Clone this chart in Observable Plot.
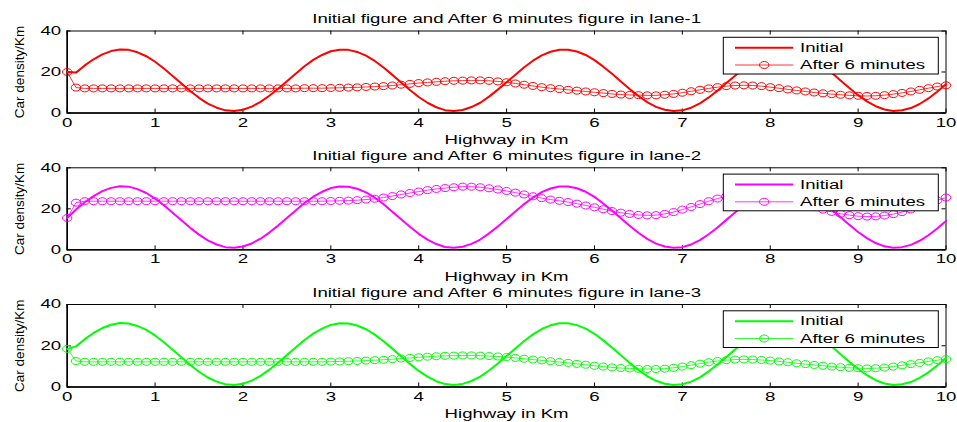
<!DOCTYPE html>
<html>
<head>
<meta charset="utf-8">
<script src="https://cdn.jsdelivr.net/npm/d3@7"></script>
<script src="https://cdn.jsdelivr.net/npm/@observablehq/plot@0.6"></script>
<style>
  body { margin: 0; background: #fff; }
  #chart { width: 957px; height: 422px; position: relative; overflow: hidden; background: #fff; }
  #chart svg { display: block; }
</style>
</head>
<body>
<div id="chart"></div>
<script>
// ---------- data ----------
const km = [0,0.1,0.2,0.3,0.4,0.5,0.6,0.7,0.8,0.9,1,1.1,1.2,1.3,1.4,1.5,1.6,1.7,1.8,1.9,2,2.1,2.2,2.3,2.4,2.5,2.6,2.7,2.8,2.9,3,3.1,3.2,3.3,3.4,3.5,3.6,3.7,3.8,3.9,4,4.1,4.2,4.3,4.4,4.5,4.6,4.7,4.8,4.9,5,5.1,5.2,5.3,5.4,5.5,5.6,5.7,5.8,5.9,6,6.1,6.2,6.3,6.4,6.5,6.6,6.7,6.8,6.9,7,7.1,7.2,7.3,7.4,7.5,7.6,7.7,7.8,7.9,8,8.1,8.2,8.3,8.4,8.5,8.6,8.7,8.8,8.9,9,9.1,9.2,9.3,9.4,9.5,9.6,9.7,9.8,9.9,10];

const initialLane1 = [20,19.7,23.2,26.2,28.6,30.2,31.0,30.8,29.6,27.7,25.0,21.7,18.1,14.4,10.7,7.4,4.6,2.6,1.3,1.0,1.6,3.1,5.4,8.4,11.8,15.5,19.2,22.8,25.9,28.3,30.1,30.9,30.8,29.8,28.0,25.4,22.2,18.6,14.9,11.2,7.8,5.0,2.8,1.4,1.0,1.5,2.9,5.0,8.0,11.4,15.0,18.7,22.3,25.5,28.1,29.9,30.9,30.9,30.0,28.3,25.8,22.6,19.1,15.4,11.7,8.3,5.3,3.0,1.6,1.0,1.3,2.6,4.7,7.6,10.9,14.6,18.2,21.8,25.1,27.8,29.7,30.8,30.9,30.1,28.6,26.1,23.1,19.6,15.9,12.2,8.7,5.7,3.3,1.7,1.0,1.3,2.4,4.4,7.1,10.4,14.0];
const initialLane2 = [15.5,19.7,23.2,26.2,28.6,30.2,31.0,30.8,29.6,27.7,25.0,21.7,18.1,14.4,10.7,7.4,4.6,2.6,1.3,1.0,1.6,3.1,5.4,8.4,11.8,15.5,19.2,22.8,25.9,28.3,30.1,30.9,30.8,29.8,28.0,25.4,22.2,18.6,14.9,11.2,7.8,5.0,2.8,1.4,1.0,1.5,2.9,5.0,8.0,11.4,15.0,18.7,22.3,25.5,28.1,29.9,30.9,30.9,30.0,28.3,25.8,22.6,19.1,15.4,11.7,8.3,5.3,3.0,1.6,1.0,1.3,2.6,4.7,7.6,10.9,14.6,18.2,21.8,25.1,27.8,29.7,30.8,30.9,30.1,28.6,26.1,23.1,19.6,15.9,12.2,8.7,5.7,3.3,1.7,1.0,1.3,2.4,4.4,7.1,10.4,14.0];
const initialLane3 = [18.5,19.7,23.2,26.2,28.6,30.2,31.0,30.8,29.6,27.7,25.0,21.7,18.1,14.4,10.7,7.4,4.6,2.6,1.3,1.0,1.6,3.1,5.4,8.4,11.8,15.5,19.2,22.8,25.9,28.3,30.1,30.9,30.8,29.8,28.0,25.4,22.2,18.6,14.9,11.2,7.8,5.0,2.8,1.4,1.0,1.5,2.9,5.0,8.0,11.4,15.0,18.7,22.3,25.5,28.1,29.9,30.9,30.9,30.0,28.3,25.8,22.6,19.1,15.4,11.7,8.3,5.3,3.0,1.6,1.0,1.3,2.6,4.7,7.6,10.9,14.6,18.2,21.8,25.1,27.8,29.7,30.8,30.9,30.1,28.6,26.1,23.1,19.6,15.9,12.2,8.7,5.7,3.3,1.7,1.0,1.3,2.4,4.4,7.1,10.4,14.0];

const afterLane1 = [20,12.4,12.0,12.0,12.0,12.0,12.0,12.0,12.0,12.0,12.0,12.0,12.0,12.0,12.0,12.0,12.0,12.0,12.0,12.0,12.0,12.0,12.0,12.0,12.0,12.0,12.0,12.1,12.1,12.1,12.2,12.3,12.4,12.5,12.7,12.9,13.1,13.4,13.8,14.2,14.6,14.9,15.2,15.5,15.7,15.8,15.9,15.9,15.7,15.4,15.0,14.4,13.8,13.2,12.6,12.1,11.7,11.3,10.9,10.5,10.1,9.7,9.3,9.0,8.8,8.7,8.6,8.6,8.9,9.3,9.9,10.6,11.3,12.0,12.6,13.1,13.4,13.5,13.4,13.1,12.6,12.1,11.5,11.0,10.5,10.0,9.6,9.2,8.9,8.6,8.4,8.3,8.4,8.7,9.2,9.8,10.5,11.3,12.1,12.9,13.5];
const afterLane2 = [15.5,23.0,23.7,23.7,23.7,23.7,23.7,23.7,23.7,23.7,23.7,23.7,23.7,23.7,23.7,23.7,23.7,23.7,23.7,23.7,23.7,23.7,23.7,23.7,23.7,23.7,23.7,23.7,23.7,23.7,23.8,23.9,24.0,24.2,24.5,24.9,25.5,26.2,27.0,27.7,28.4,29.1,29.7,30.1,30.5,30.8,30.8,30.5,30.0,29.4,28.7,27.9,27.0,26.1,25.2,24.5,23.9,23.3,22.5,21.6,20.7,19.8,18.9,18.1,17.5,17.0,16.8,16.9,17.5,18.4,19.6,20.9,22.3,23.7,25.0,26.0,26.8,27.2,27.3,27.0,26.4,25.5,24.4,23.2,22.0,20.8,19.6,18.5,17.6,16.9,16.4,16.2,16.3,16.7,17.4,18.4,19.7,21.1,22.6,24.1,25.5];
const afterLane3 = [18.5,12.6,12.2,12.2,12.2,12.2,12.2,12.2,12.2,12.2,12.2,12.2,12.2,12.2,12.2,12.2,12.2,12.2,12.2,12.2,12.2,12.2,12.2,12.2,12.2,12.2,12.2,12.2,12.2,12.2,12.3,12.4,12.5,12.6,12.8,13.0,13.2,13.5,13.8,14.1,14.4,14.7,14.9,15.1,15.2,15.3,15.3,15.2,15.0,14.8,14.5,14.1,13.7,13.3,12.9,12.5,12.1,11.7,11.2,10.8,10.3,9.9,9.5,9.2,9.0,8.8,8.7,8.7,8.9,9.3,9.9,10.6,11.3,12.0,12.6,13.0,13.3,13.4,13.3,13.1,12.8,12.4,12.0,11.5,11.1,10.7,10.3,9.9,9.6,9.3,9.1,9.0,9.1,9.4,9.9,10.5,11.1,11.7,12.4,13.0,13.5];

const titles = [
  "Initial figure and After 6 minutes figure in lane-1",
  "Initial figure and After 6 minutes figure in lane-2",
  "Initial figure and After 6 minutes figure in lane-3"
];
const laneColors = ["#ff0000", "#ff00ff", "#00ff00"];
const seriesNames = ["Initial", "After 6 minutes"];
const xLabel = "Highway in Km";
const yLabel = "Car density/Km";
const xTicks = [0,1,2,3,4,5,6,7,8,9,10];
const yTicks = [0,20,40];

// ---------- layout ----------
const W = 957, ML = 66.7, MR = 11.5;
const FONT = "'Liberation Sans', Arial, Helvetica, sans-serif";
const STRETCH = 1.55;
const layouts = [
  {height: 147, marginTop: 30.5, marginBottom: 34.5},
  {height: 137, marginTop: 20.3, marginBottom: 34.7},
  {height: 138, marginTop: 20,   marginBottom: 35.5}
];
const lanes = [
  {title: titles[0], color: laneColors[0], initial: initialLane1, after: afterLane1},
  {title: titles[1], color: laneColors[1], initial: initialLane2, after: afterLane2},
  {title: titles[2], color: laneColors[2], initial: initialLane3, after: afterLane3}
];

// horizontally stretched circle marker (as in the reference)
const RX = 4.7, RY = 3.5, K = 0.5523;
function ellipsePath(ctx, rx, ry) {
  ctx.moveTo(rx, 0);
  ctx.bezierCurveTo(rx, ry * K, rx * K, ry, 0, ry);
  ctx.bezierCurveTo(-rx * K, ry, -rx, ry * K, -rx, 0);
  ctx.bezierCurveTo(-rx, -ry * K, -rx * K, -ry, 0, -ry);
  ctx.bezierCurveTo(rx * K, -ry, rx, -ry * K, rx, 0);
  ctx.closePath();
}
const ellipseSymbol = {draw(ctx) { ellipsePath(ctx, RX, RY); }};

const chart = document.getElementById("chart");

lanes.forEach((lane, li) => {
  const L = layouts[li];
  const rows = km.map((x, i) => ({x, initial: lane.initial[i], after: lane.after[i]}));
  const frameH = L.height - L.marginTop - L.marginBottom;
  const frameW = W - ML - MR;

  const svg = Plot.plot({
    width: W,
    height: L.height,
    marginLeft: ML,
    marginRight: MR,
    marginTop: L.marginTop,
    marginBottom: L.marginBottom,
    style: {fontFamily: FONT, fontSize: "12px", background: "white", color: "black", overflow: "visible"},
    x: {domain: [0, 10]},
    y: {domain: [0, 40]},
    marks: [
      // inward ticks on all four sides
      Plot.tickX(xTicks, {x: d => d, insetTop: frameH - 4, stroke: "black", strokeWidth: 1}),
      Plot.tickX(xTicks, {x: d => d, insetBottom: frameH - 4, stroke: "black", strokeWidth: 1}),
      Plot.tickY(yTicks, {y: d => d, insetRight: frameW - 4, stroke: "black", strokeWidth: 1}),
      Plot.tickY(yTicks, {y: d => d, insetLeft: frameW - 4, stroke: "black", strokeWidth: 1}),
      Plot.frame({stroke: "black", strokeWidth: 1}),
      Plot.ruleX([0], {stroke: "black", strokeWidth: 1.6}),
      Plot.ruleY([0], {stroke: "black", strokeWidth: 1.6}),
      Plot.axisX(xTicks, {tickSize: 0, tickPadding: 5, label: null, fontSize: 12}),
      Plot.axisY(yTicks, {tickSize: 0, tickPadding: 6, label: null, fontSize: 12}),
      // data
      Plot.line(rows, {x: "x", y: "initial", stroke: lane.color, strokeWidth: 2}),
      Plot.line(rows, {x: "x", y: "after", stroke: lane.color, strokeWidth: 0.8}),
      Plot.dot(rows, {x: "x", y: "after", stroke: lane.color, strokeWidth: 1, fill: "none", symbol: ellipseSymbol}),
      // texts
      Plot.text([lane.title], {text: d => d, frameAnchor: "top", dy: -8, lineAnchor: "bottom", textAnchor: "middle", fontSize: 12}),
      Plot.text([xLabel], {text: d => d, frameAnchor: "bottom", dy: 30.8, lineAnchor: "bottom", textAnchor: "middle", fontSize: 12}),
      Plot.text([yLabel], {text: d => d, frameAnchor: "left", dx: -48, rotate: -90, textAnchor: "middle", lineAnchor: "middle", fontSize: 13.5})
    ]
  });
  chart.appendChild(svg);

  // legend box (top-right, inside the frame)
  const fr = W - MR, ft = L.marginTop;
  const g = d3.select(svg).append("g")
    .attr("font-family", FONT).attr("font-size", 12).attr("fill", "black")
    .attr("text-anchor", "start");
  g.append("rect")
    .attr("x", fr - 222.2).attr("y", ft + 6.8)
    .attr("width", 215).attr("height", 36.7)
    .attr("fill", "white").attr("stroke", "black").attr("stroke-width", 1);
  const rowsY = [ft + 17.2, ft + 34.5];
  g.append("line").attr("x1", fr - 210.5).attr("x2", fr - 152.2)
    .attr("y1", rowsY[0]).attr("y2", rowsY[0])
    .attr("stroke", lane.color).attr("stroke-width", 2);
  g.append("line").attr("x1", fr - 210.5).attr("x2", fr - 152.2)
    .attr("y1", rowsY[1]).attr("y2", rowsY[1])
    .attr("stroke", lane.color).attr("stroke-width", 0.8);
  const p = d3.path(); ellipsePath(p, RX, RY);
  g.append("path").attr("d", p.toString())
    .attr("transform", `translate(${fr - 181.3},${rowsY[1]})`)
    .attr("fill", "none").attr("stroke", lane.color).attr("stroke-width", 1);
  seriesNames.forEach((name, i) => {
    g.append("text").attr("x", fr - 145.5).attr("y", rowsY[i]).attr("dy", "0.35em")
      .attr("text-anchor", "start").text(name);
  });

  // horizontal stretch of the (non-rotated) texts, as in the reference raster
  svg.querySelectorAll("text").forEach(t => {
    const tr = t.getAttribute("transform") || "";
    if (tr.includes("rotate")) return;
    const len = t.getComputedTextLength();
    if (len > 0) {
      t.setAttribute("textLength", (len * STRETCH).toFixed(1));
      t.setAttribute("lengthAdjust", "spacingAndGlyphs");
    }
  });
});
</script>
</body>
</html>
